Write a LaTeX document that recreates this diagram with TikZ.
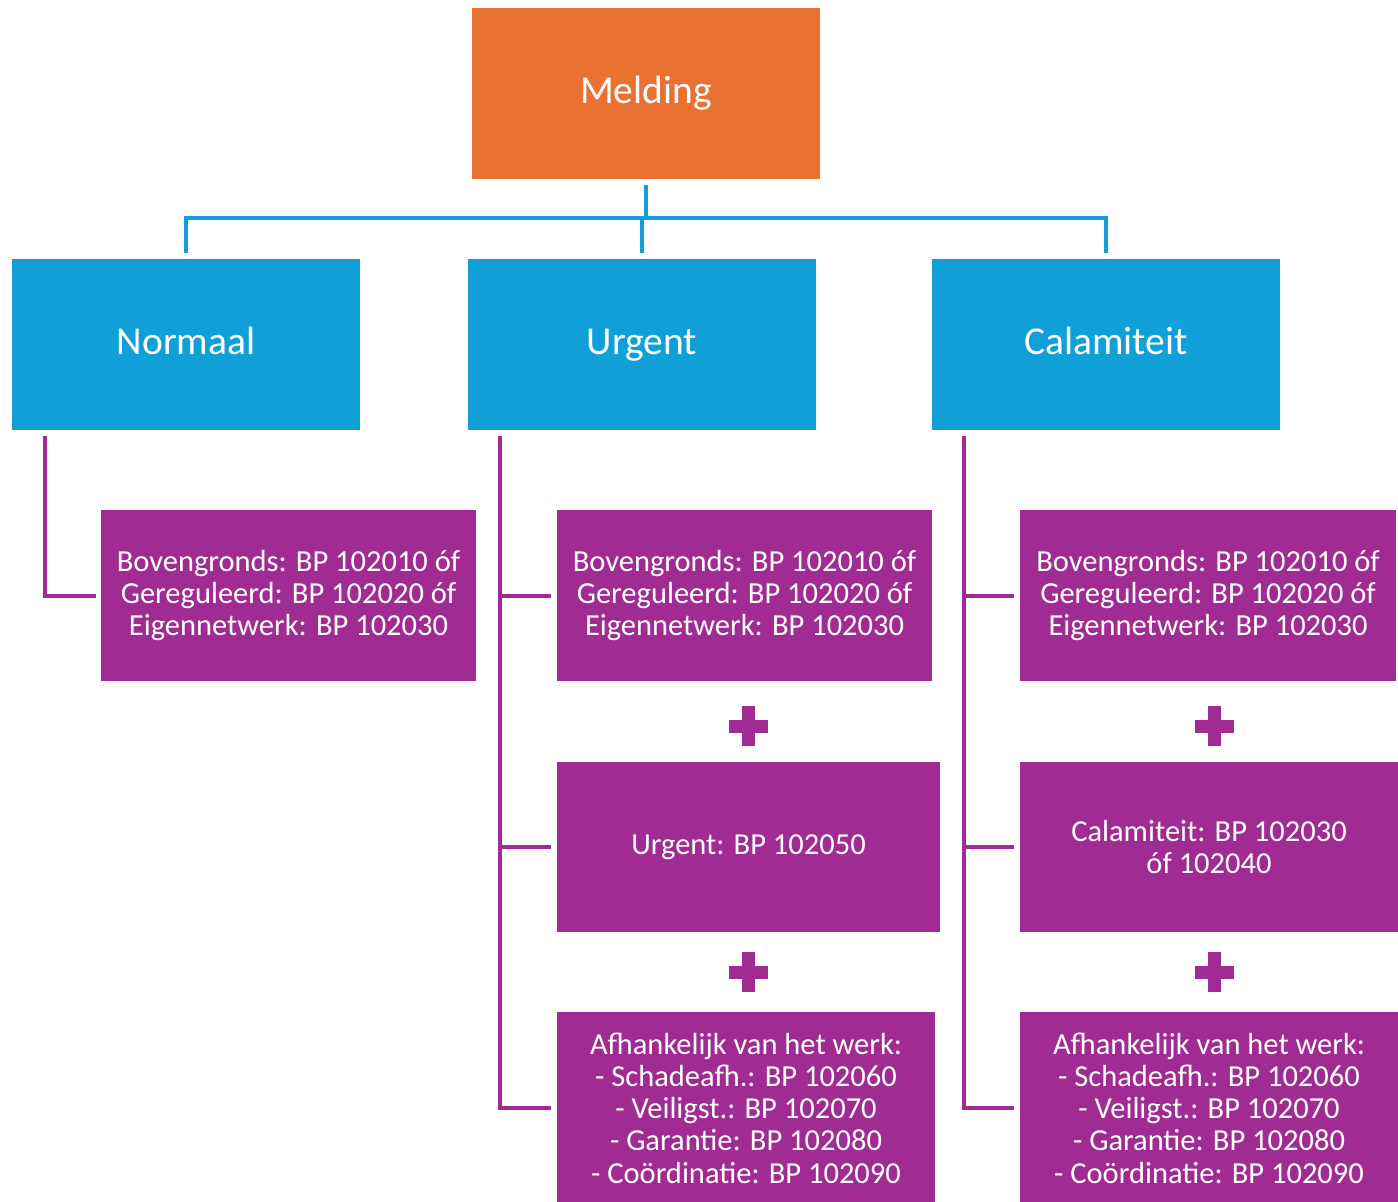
\documentclass[tikz,border=0pt]{standalone}
\usepackage{fontspec}
\setmainfont{Carlito}
\usetikzlibrary{positioning}

\definecolor{meldorange}{HTML}{E97132}
\definecolor{kopblauw}{HTML}{109FD6}
\definecolor{bppaars}{HTML}{A02B93}

\begin{document}
\begin{tikzpicture}[x=1pt,y=-1pt]
\useasboundingbox (0,0) rectangle (1398,1202);
\tikzstyle{every node}=[inner sep=0pt, text=white, align=center];
\tikzstyle{kop}=[fill=kopblauw, minimum width=348pt, minimum height=171pt, text height=27pt, text depth=8pt, font=\fontsize{39.5}{44}\selectfont];
\tikzstyle{bp}=[fill=bppaars, minimum height=171pt, font=\fontsize{30.5}{32.3}\selectfont];
\tikzstyle{blauwlijn}=[draw=kopblauw, line width=4pt];
\tikzstyle{paarslijn}=[draw=bppaars, line width=4pt];

% melding en soorten
\draw (646,93.5) node[kop, fill=meldorange] (melding) {Melding};
\draw (186,344.5) node[kop] (normaal) {Normaal};
\draw (642,344.5) node[kop] (urgent) {Urgent};
\draw (1106,344.5) node[kop] (calam) {Calamiteit};

\draw[blauwlijn] ([yshift=-6pt]melding.south) -- ++(0,34);
\draw[blauwlijn] ([yshift=6pt]normaal.north) |- ([yshift=41pt]calam.north) -- ([yshift=6pt]calam.north);
\draw[blauwlijn] ([yshift=41pt]urgent.north) -- ([yshift=6pt]urgent.north);

% normaal
\draw (288.5,595.5) node[bp, minimum width=375pt] (n1) {Bovengronds: BP 102010 óf\\Gereguleerd: BP 102020 óf\\Eigennetwerk: BP 102030};
\draw[paarslijn] ([xshift=33pt,yshift=-6pt]normaal.south west) |- ([xshift=-5pt]n1.west);

% urgent
\draw (744.5,595.5) node[bp, minimum width=375pt] (u1) {Bovengronds: BP 102010 óf\\Gereguleerd: BP 102020 óf\\Eigennetwerk: BP 102030};
\draw (748.5,847) node[bp, minimum width=383pt, minimum height=170pt] (u2) {Urgent: BP 102050};
\draw (746,1108) node[bp, minimum width=378pt, minimum height=192pt] (u3) {Afhankelijk van het werk:\\- Schadeafh.: BP 102060\\- Veiligst.: BP 102070\\- Garantie: BP 102080\\- Coördinatie: BP 102090};
\coordinate (ustam) at ([xshift=32pt,yshift=-6pt]urgent.south west);
\draw[paarslijn] (ustam) |- ([xshift=-6pt]u3.west);
\draw[paarslijn] ([xshift=-6pt]u1.west) -- (u1.west -| ustam);
\draw[paarslijn] ([xshift=-6pt]u2.west) -- (u2.west -| ustam);

% calamiteit
\draw (1208,595.5) node[bp, minimum width=376pt] (c1) {Bovengronds: BP 102010 óf\\Gereguleerd: BP 102020 óf\\Eigennetwerk: BP 102030};
\draw (1209,847) node[bp, minimum width=378pt, minimum height=170pt] (c2) {Calamiteit: BP 102030\\óf 102040};
\draw (1209,1108) node[bp, minimum width=378pt, minimum height=192pt] (c3) {Afhankelijk van het werk:\\- Schadeafh.: BP 102060\\- Veiligst.: BP 102070\\- Garantie: BP 102080\\- Coördinatie: BP 102090};
\coordinate (cstam) at ([xshift=32pt,yshift=-6pt]calam.south west);
\draw[paarslijn] (cstam) |- ([xshift=-6pt]c3.west);
\draw[paarslijn] ([xshift=-6pt]c1.west) -- (c1.west -| cstam);
\draw[paarslijn] ([xshift=-6pt]c2.west) -- (c2.west -| cstam);

% plustekens
\foreach \px/\py in {748/726, 748/972, 1214/726, 1214/972} {
  \fill[bppaars] (\px-19.5,\py-6.5) rectangle (\px+19.5,\py+6.5);
  \fill[bppaars] (\px-6.5,\py-20) rectangle (\px+6.5,\py+20);
}
\end{tikzpicture}
\end{document}
